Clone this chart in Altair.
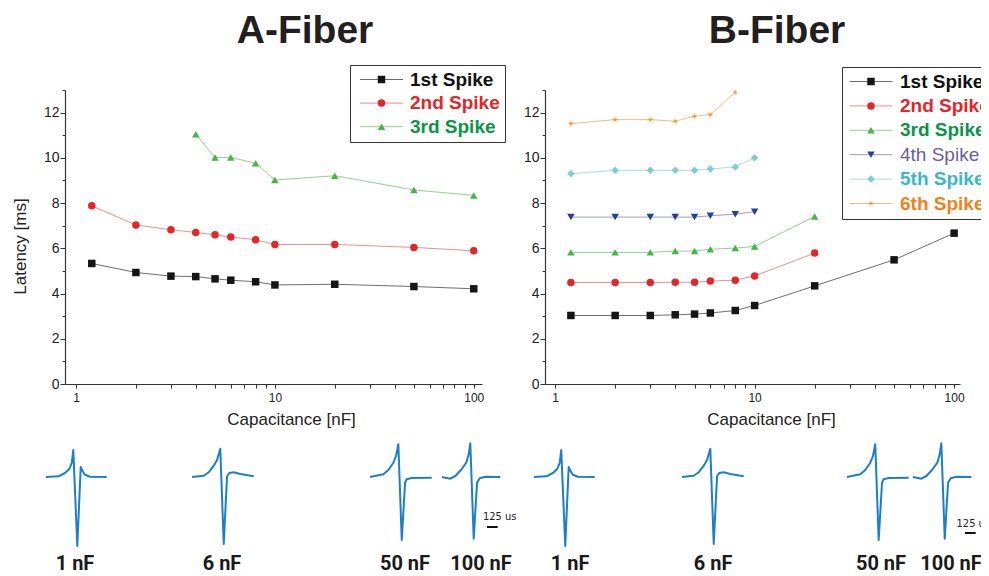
import math
import altair as alt
import pandas as pd

# ---------------- data ----------------
SERIES = ["1st Spike", "2nd Spike", "3rd Spike", "4th Spike", "5th Spike", "6th Spike"]

cap_all = [1.2, 2, 3, 4, 5, 6, 8, 10, 20, 50, 100]

# A-Fiber
a_cap_1st = cap_all
a_lat_1st = [5.33, 4.93, 4.77, 4.75, 4.65, 4.59, 4.52, 4.38, 4.41, 4.31, 4.21]
a_cap_2nd = cap_all
a_lat_2nd = [7.88, 7.03, 6.82, 6.70, 6.60, 6.50, 6.38, 6.17, 6.17, 6.04, 5.89]
a_cap_3rd = [4, 5, 6, 8, 10, 20, 50, 100]
a_lat_3rd = [11.04, 10.02, 10.02, 9.76, 9.02, 9.21, 8.58, 8.34]

# B-Fiber
b_cap_1st = cap_all
b_lat_1st = [3.03, 3.03, 3.03, 3.06, 3.09, 3.14, 3.25, 3.47, 4.34, 5.49, 6.67]
b_cap_2nd = [1.2, 2, 3, 4, 5, 6, 8, 10, 20]
b_lat_2nd = [4.49, 4.49, 4.49, 4.50, 4.50, 4.55, 4.59, 4.78, 5.79]
b_cap_3rd = [1.2, 2, 3, 4, 5, 6, 8, 10, 20]
b_lat_3rd = [5.82, 5.82, 5.82, 5.88, 5.88, 5.96, 6.01, 6.08, 7.41]
b_cap_4th = [1.2, 2, 3, 4, 5, 6, 8, 10]
b_lat_4th = [7.38, 7.38, 7.38, 7.38, 7.38, 7.44, 7.51, 7.62]
b_cap_5th = [1.2, 2, 3, 4, 5, 6, 8, 10]
b_lat_5th = [9.30, 9.45, 9.45, 9.45, 9.45, 9.51, 9.60, 10.00]
b_cap_6th = [1.2, 2, 3, 4, 5, 6, 8]
b_lat_6th = [11.51, 11.69, 11.69, 11.62, 11.84, 11.91, 12.90]

x_ticks = [1, 2, 3, 4, 5, 6, 7, 8, 9, 10, 20, 30, 40, 50, 60, 70, 80, 90, 100]
y_ticks = list(range(0, 14))

# example spike traces (time in us from trace start, amplitude in arbitrary units)
trace_names = ["1 nF", "6 nF", "50 nF", "100 nF"]
wave_t_1nF = [0, 144, 222, 273, 301, 319, 366, 406, 429, 456, 515, 710]
wave_v_1nF = [0, 0.7, 4, 8, 14, 27, -69, 10, 5.7, 2.3, 0.3, 0]
wave_t_6nF = [0, 137, 195, 254, 293, 331, 371, 410, 436, 488, 565, 722]
wave_v_6nF = [0, 1.3, 4.7, 11.3, 17, 28.3, -67, 0.7, 4, 4.7, 3, 0.7]
wave_t_50nF = [0, 156, 214, 273, 304, 331, 371, 410, 429, 488, 722]
wave_v_50nF = [0, 2.7, 7, 14.3, 21, 32.7, -63, -5.7, -2.3, -1, -0.7]
wave_t_100nF = [0, 97, 156, 222, 284, 312, 331, 371, 410, 441, 507, 682]
wave_v_100nF = [0, -1.7, 1, 7, 14.3, 22.7, 33.7, -61.7, -5.7, -1.3, 0.3, 0]

a_trace_start = [-222, 1486, 3569, 4411]
b_trace_start = [-129, 1603, 3533, 4306]
a_label_t = [117, 1837, 3978, 4867]
b_label_t = [293, 1966, 3931, 4750]
label_v = -93
scale_bar_len = 125
a_bar_t, a_bar_v, a_bar_text_t, a_bar_text_v = 4937, -50, 4891, -43
b_bar_t, b_bar_v, b_bar_text_t, b_bar_text_v = 4914, -56, 4815, -50

# ---------------- styles ----------------
marker_colors = ["#151515", "#e2262a", "#46b549", "#283f93", "#7fcccc", "#f38b2c"]
line_colors = ["#6e6e6e", "#f08c8c", "#8fd18f", "#9a9ccc", "#a9dede", "#f4bd86"]
label_colors = ["#111111", "#e2262a", "#0a9548", "#6b5ea8", "#3ab8c8", "#f0821e"]

pts = []
for k in range(16):
    ang = math.radians(k * 22.5)
    r = 1.0 if k % 2 == 0 else 0.24
    pts.append((r * math.sin(ang), -r * math.cos(ang)))
asterisk = "M" + "L".join(f"{x:.3f},{y:.3f}" for x, y in pts) + "Z"
shapes = ["square", "circle", "triangle-up", "triangle-down", "diamond", asterisk]
legend_line_symbol = "M-4.3,0H4.3"

FONT = "Liberation Sans"
PLOT_H = 294
A_W, B_W = 417, 415
WAVE_H = 140
US_PER_PX = 11.7

label_color_expr = " : ".join(
    f"datum.value == '{s}' ? '{c}'" for s, c in zip(SERIES[:-1], label_colors[:-1])
) + f" : '{label_colors[-1]}'"
label_weight_expr = "datum.value == '4th Spike' ? 'normal' : 'bold'"


def build_df(caps, lats):
    rows = []
    for s, cs, ls in zip(SERIES, caps, lats):
        for c, l in zip(cs, ls):
            rows.append({"series": s, "line": s, "cap": c, "lat": l})
    return pd.DataFrame(rows)


def top_panel(df, n, title_text, title_dx, title_offset, xdom, width, ytitle,
              lx, ly, sym_off, lab_off, row_pad):
    xaxis = alt.Axis(
        values=x_ticks,
        labelExpr="datum.value == 1 || datum.value == 10 || datum.value == 100 ? datum.label : ''",
        tickSize=4, labelPadding=4, labelFontSize=12, grid=False,
        title="Capacitance [nF]", titleX=226, titlePadding=8,
    )
    ykw = dict(
        values=y_ticks,
        labelExpr="datum.value % 2 == 0 ? datum.label : ''",
        tickSize={"condition": {"test": "datum.value % 2 == 0", "value": 5}, "value": 3},
        labelPadding=1, labelFontSize=14, grid=False,
    )
    if ytitle:
        ykw.update(title=ytitle, titlePadding=14, titleY=156)
    else:
        ykw.update(title=None)
    x = alt.X("cap:Q", scale=alt.Scale(type="log", domain=xdom, nice=False), axis=xaxis)
    y = alt.Y("lat:Q", scale=alt.Scale(domain=[0, 13], nice=False, zero=False), axis=alt.Axis(**ykw))

    common = dict(
        title=None, orient="none", legendX=lx, legendY=ly, symbolOffset=sym_off,
        labelOffset=lab_off, labelFont=FONT, labelFontSize=19, labelLimit=300,
        rowPadding=row_pad, padding=5,
    )
    line_leg = alt.Legend(
        symbolType=legend_line_symbol, symbolSize=100, symbolStrokeWidth=1,
        labelFontWeight={"expr": label_weight_expr}, labelColor={"expr": label_color_expr},
        strokeColor="#333333", **common,
    )
    pt_leg = alt.Legend(symbolSize=56, symbolStrokeWidth=0, labelOpacity=0, **common)
    base = alt.Chart(df)
    lines = base.mark_line(strokeWidth=1).encode(
        x=x, y=y,
        stroke=alt.Stroke("line:N", scale=alt.Scale(range=line_colors[:n]), legend=line_leg),
    )
    points = base.mark_point(filled=True, size=56, opacity=1, strokeWidth=0).encode(
        x=x, y=y,
        fill=alt.Fill("series:N", scale=alt.Scale(range=marker_colors[:n]), legend=pt_leg),
        shape=alt.Shape("series:N", scale=alt.Scale(range=shapes[:n]), legend=pt_leg),
    )
    return alt.layer(lines, points).properties(
        width=width, height=PLOT_H,
        title=alt.TitleParams(
            title_text, font=FONT, fontSize=39, fontWeight="bold", color="#231f20",
            anchor="middle", frame="group", dx=title_dx, offset=title_offset,
            baseline="alphabetic",
        ),
    )


def wave_panel(starts, label_t, bar_t, bar_v, bar_text_t, bar_text_v, width):
    waves_t = [wave_t_1nF, wave_t_6nF, wave_t_50nF, wave_t_100nF]
    waves_v = [wave_v_1nF, wave_v_6nF, wave_v_50nF, wave_v_100nF]
    rows = []
    for name, st, ts, vs in zip(trace_names, starts, waves_t, waves_v):
        for t, v in zip(ts, vs):
            rows.append({"trace": name, "t": st + t, "v": v})
    wdf = pd.DataFrame(rows)
    xs = alt.Scale(domain=[0, width * US_PER_PX], nice=False, zero=False)
    ys = alt.Scale(domain=[-99, 41], nice=False, zero=False)
    traces = alt.Chart(wdf).mark_line(color="#1b7fc9", strokeWidth=2, strokeJoin="round").encode(
        x=alt.X("t:Q", scale=xs, axis=None), y=alt.Y("v:Q", scale=ys, axis=None), detail="trace:N"
    )
    ldf = pd.DataFrame({"t": label_t, "v": [label_v] * len(label_t), "txt": trace_names})
    labels = alt.Chart(ldf).mark_text(
        font="Roboto", fontSize=20, fontWeight="bold", align="center", baseline="alphabetic", color="#1a1a1a"
    ).encode(x=alt.X("t:Q", scale=xs, axis=None), y=alt.Y("v:Q", scale=ys, axis=None), text="txt:N")
    bdf = pd.DataFrame({"t1": [bar_t], "t2": [bar_t + scale_bar_len], "v": [bar_v]})
    bar = alt.Chart(bdf).mark_rule(strokeWidth=2, color="#111111").encode(
        x=alt.X("t1:Q", scale=xs, axis=None), x2="t2:Q", y=alt.Y("v:Q", scale=ys, axis=None)
    )
    tdf = pd.DataFrame({"t": [bar_text_t], "v": [bar_text_v], "txt": [f"{scale_bar_len} us"]})
    bar_text = alt.Chart(tdf).mark_text(
        font="Liberation Sans Narrow, DejaVu Sans Condensed", fontSize=11, align="left",
        baseline="alphabetic", color="#222222"
    ).encode(x=alt.X("t:Q", scale=xs, axis=None), y=alt.Y("v:Q", scale=ys, axis=None), text="txt:N")
    return alt.layer(traces, labels, bar, bar_text).properties(width=width, height=WAVE_H)


a_df = build_df([a_cap_1st, a_cap_2nd, a_cap_3rd], [a_lat_1st, a_lat_2nd, a_lat_3rd])
b_df = build_df(
    [b_cap_1st, b_cap_2nd, b_cap_3rd, b_cap_4th, b_cap_5th, b_cap_6th],
    [b_lat_1st, b_lat_2nd, b_lat_3rd, b_lat_4th, b_lat_5th, b_lat_6th],
)

a_top = top_panel(a_df, 3, "A-Fiber", 31.5, -17, [0.88, 110], A_W, "Latency [ms]",
                  285, -25, 17, 19, 3.6)
b_top = top_panel(b_df, 6, "B-Fiber", 24.5, -15, [0.89, 107], B_W, None,
                  297, -23, 14.5, 19.5, 4.4)
a_wave = wave_panel(a_trace_start, a_label_t, a_bar_t, a_bar_v, a_bar_text_t, a_bar_text_v, A_W)
b_wave = wave_panel(b_trace_start, b_label_t, b_bar_t, b_bar_v, b_bar_text_t, b_bar_text_v, B_W)

ind = dict(x="independent", y="independent", stroke="independent", fill="independent", shape="independent")
chart = alt.concat(
    a_top, b_top, a_wave, b_wave, columns=2, spacing={"row": 52, "column": 63}, bounds="flush"
).resolve_scale(**ind).resolve_legend(
    stroke="independent", fill="independent", shape="independent"
).properties(
    autosize=alt.AutoSizeParams(type="none"),
    padding={"left": 57, "top": 82, "right": 916, "bottom": 486},
).configure_view(stroke=None).configure_axis(
    labelFont=FONT, titleFont=FONT, labelColor="#222222", titleColor="#222222",
    titleFontSize=17, titleFontWeight="normal", domainColor="#333333", tickColor="#333333",
    domainWidth=1.2,
)

chart.save("out.html", embed_options={"renderer": "svg", "actions": False})
